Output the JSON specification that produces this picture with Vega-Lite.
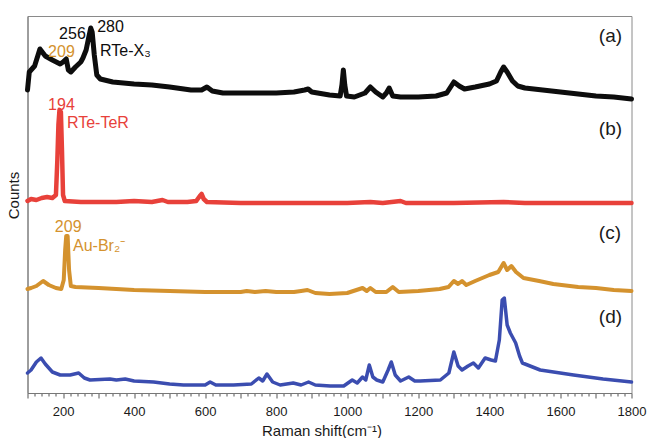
{
  "$schema": "https://vega.github.io/schema/vega-lite/v6.json",
  "width": 604,
  "height": 377,
  "autosize": "none",
  "padding": {"left": 27.5, "top": 16, "right": 17.5, "bottom": 45},
  "background": "white",
  "config": {
    "font": "Liberation Sans",
    "view": {"stroke": "#8a8a8a", "strokeWidth": 1}
  },
  "datasets": {
    "spectra": [
      {"s":"a","x":100,"y":303},{"s":"a","x":105,"y":321},{"s":"a","x":110,"y":323},{"s":"a","x":120,"y":327},{"s":"a","x":135,"y":344},{"s":"a","x":150,"y":337},{"s":"a","x":170,"y":333},{"s":"a","x":192,"y":329},{"s":"a","x":200,"y":331},{"s":"a","x":209,"y":334},{"s":"a","x":215,"y":323},{"s":"a","x":222,"y":321},{"s":"a","x":235,"y":326},{"s":"a","x":250,"y":331},{"s":"a","x":256,"y":335},{"s":"a","x":265,"y":343},{"s":"a","x":272,"y":355},{"s":"a","x":278,"y":365},{"s":"a","x":282,"y":361},{"s":"a","x":288,"y":338},{"s":"a","x":295,"y":318},{"s":"a","x":305,"y":314},{"s":"a","x":340,"y":311},{"s":"a","x":400,"y":309},{"s":"a","x":450,"y":308},{"s":"a","x":500,"y":306},{"s":"a","x":560,"y":303},{"s":"a","x":590,"y":303},{"s":"a","x":605,"y":306},{"s":"a","x":620,"y":302},{"s":"a","x":650,"y":300},{"s":"a","x":700,"y":300},{"s":"a","x":750,"y":300},{"s":"a","x":800,"y":300},{"s":"a","x":850,"y":301},{"s":"a","x":880,"y":303},{"s":"a","x":890,"y":304},{"s":"a","x":900,"y":301},{"s":"a","x":950,"y":298},{"s":"a","x":980,"y":297},{"s":"a","x":985,"y":308},{"s":"a","x":989,"y":323},{"s":"a","x":993,"y":308},{"s":"a","x":998,"y":297},{"s":"a","x":1020,"y":296},{"s":"a","x":1050,"y":300},{"s":"a","x":1065,"y":306},{"s":"a","x":1080,"y":301},{"s":"a","x":1100,"y":296},{"s":"a","x":1110,"y":300},{"s":"a","x":1118,"y":305},{"s":"a","x":1128,"y":297},{"s":"a","x":1150,"y":296},{"s":"a","x":1200,"y":296},{"s":"a","x":1250,"y":297},{"s":"a","x":1280,"y":300},{"s":"a","x":1300,"y":311},{"s":"a","x":1315,"y":307},{"s":"a","x":1330,"y":304},{"s":"a","x":1360,"y":306},{"s":"a","x":1400,"y":309},{"s":"a","x":1420,"y":312},{"s":"a","x":1432,"y":321},{"s":"a","x":1440,"y":326},{"s":"a","x":1450,"y":321},{"s":"a","x":1465,"y":312},{"s":"a","x":1480,"y":307},{"s":"a","x":1500,"y":305},{"s":"a","x":1550,"y":303},{"s":"a","x":1600,"y":301},{"s":"a","x":1650,"y":299},{"s":"a","x":1700,"y":297},{"s":"a","x":1750,"y":296},{"s":"a","x":1800,"y":294},
      {"s":"b","x":100,"y":192},{"s":"b","x":110,"y":194},{"s":"b","x":125,"y":193},{"s":"b","x":140,"y":195},{"s":"b","x":155,"y":196},{"s":"b","x":170,"y":195},{"s":"b","x":180,"y":198},{"s":"b","x":184,"y":233},{"s":"b","x":187,"y":268},{"s":"b","x":190,"y":283},{"s":"b","x":194,"y":281},{"s":"b","x":197,"y":243},{"s":"b","x":200,"y":198},{"s":"b","x":205,"y":192},{"s":"b","x":250,"y":191},{"s":"b","x":300,"y":191},{"s":"b","x":350,"y":191},{"s":"b","x":400,"y":192},{"s":"b","x":450,"y":191},{"s":"b","x":480,"y":193},{"s":"b","x":495,"y":191},{"s":"b","x":550,"y":191},{"s":"b","x":575,"y":192},{"s":"b","x":585,"y":197},{"s":"b","x":590,"y":199},{"s":"b","x":596,"y":194},{"s":"b","x":605,"y":191},{"s":"b","x":700,"y":190},{"s":"b","x":800,"y":190},{"s":"b","x":900,"y":190},{"s":"b","x":1000,"y":190},{"s":"b","x":1065,"y":191},{"s":"b","x":1100,"y":190},{"s":"b","x":1150,"y":192},{"s":"b","x":1165,"y":190},{"s":"b","x":1300,"y":190},{"s":"b","x":1440,"y":191},{"s":"b","x":1500,"y":190},{"s":"b","x":1600,"y":190},{"s":"b","x":1700,"y":190},{"s":"b","x":1800,"y":190},
      {"s":"c","x":100,"y":104},{"s":"c","x":110,"y":105},{"s":"c","x":125,"y":107},{"s":"c","x":144,"y":112},{"s":"c","x":160,"y":108},{"s":"c","x":180,"y":105},{"s":"c","x":195,"y":104},{"s":"c","x":202,"y":113},{"s":"c","x":206,"y":143},{"s":"c","x":209,"y":157},{"s":"c","x":213,"y":157},{"s":"c","x":217,"y":123},{"s":"c","x":222,"y":107},{"s":"c","x":235,"y":106},{"s":"c","x":300,"y":105},{"s":"c","x":400,"y":103},{"s":"c","x":500,"y":102},{"s":"c","x":600,"y":101},{"s":"c","x":700,"y":101},{"s":"c","x":717,"y":102},{"s":"c","x":740,"y":101},{"s":"c","x":770,"y":102},{"s":"c","x":800,"y":101},{"s":"c","x":850,"y":101},{"s":"c","x":870,"y":102},{"s":"c","x":888,"y":103},{"s":"c","x":910,"y":100},{"s":"c","x":950,"y":99},{"s":"c","x":1000,"y":100},{"s":"c","x":1043,"y":105},{"s":"c","x":1055,"y":102},{"s":"c","x":1065,"y":105},{"s":"c","x":1080,"y":101},{"s":"c","x":1110,"y":101},{"s":"c","x":1128,"y":106},{"s":"c","x":1145,"y":101},{"s":"c","x":1200,"y":102},{"s":"c","x":1260,"y":104},{"s":"c","x":1285,"y":106},{"s":"c","x":1300,"y":112},{"s":"c","x":1312,"y":109},{"s":"c","x":1323,"y":112},{"s":"c","x":1335,"y":108},{"s":"c","x":1360,"y":112},{"s":"c","x":1400,"y":118},{"s":"c","x":1425,"y":121},{"s":"c","x":1440,"y":130},{"s":"c","x":1450,"y":123},{"s":"c","x":1462,"y":127},{"s":"c","x":1475,"y":121},{"s":"c","x":1496,"y":115},{"s":"c","x":1540,"y":112},{"s":"c","x":1580,"y":109},{"s":"c","x":1650,"y":106},{"s":"c","x":1700,"y":105},{"s":"c","x":1750,"y":103},{"s":"c","x":1800,"y":102},
      {"s":"d","x":100,"y":20},{"s":"d","x":110,"y":23},{"s":"d","x":125,"y":31},{"s":"d","x":138,"y":35},{"s":"d","x":150,"y":29},{"s":"d","x":170,"y":21},{"s":"d","x":192,"y":18},{"s":"d","x":220,"y":18},{"s":"d","x":244,"y":20},{"s":"d","x":260,"y":15},{"s":"d","x":276,"y":13},{"s":"d","x":332,"y":14},{"s":"d","x":350,"y":13},{"s":"d","x":375,"y":14},{"s":"d","x":400,"y":12},{"s":"d","x":455,"y":11},{"s":"d","x":500,"y":9},{"s":"d","x":539,"y":8},{"s":"d","x":600,"y":8},{"s":"d","x":614,"y":11},{"s":"d","x":630,"y":8},{"s":"d","x":680,"y":8},{"s":"d","x":730,"y":9},{"s":"d","x":751,"y":15},{"s":"d","x":762,"y":12},{"s":"d","x":774,"y":19},{"s":"d","x":790,"y":11},{"s":"d","x":811,"y":8},{"s":"d","x":848,"y":10},{"s":"d","x":870,"y":8},{"s":"d","x":891,"y":11},{"s":"d","x":910,"y":8},{"s":"d","x":952,"y":7},{"s":"d","x":990,"y":7},{"s":"d","x":1014,"y":13},{"s":"d","x":1028,"y":10},{"s":"d","x":1043,"y":16},{"s":"d","x":1052,"y":13},{"s":"d","x":1062,"y":28},{"s":"d","x":1072,"y":16},{"s":"d","x":1083,"y":13},{"s":"d","x":1100,"y":11},{"s":"d","x":1115,"y":23},{"s":"d","x":1124,"y":31},{"s":"d","x":1135,"y":18},{"s":"d","x":1150,"y":12},{"s":"d","x":1173,"y":16},{"s":"d","x":1190,"y":12},{"s":"d","x":1205,"y":12},{"s":"d","x":1262,"y":13},{"s":"d","x":1286,"y":20},{"s":"d","x":1300,"y":41},{"s":"d","x":1312,"y":27},{"s":"d","x":1323,"y":23},{"s":"d","x":1340,"y":27},{"s":"d","x":1355,"y":30},{"s":"d","x":1369,"y":25},{"s":"d","x":1388,"y":35},{"s":"d","x":1405,"y":33},{"s":"d","x":1417,"y":32},{"s":"d","x":1428,"y":53},{"s":"d","x":1436,"y":93},{"s":"d","x":1442,"y":95},{"s":"d","x":1450,"y":68},{"s":"d","x":1459,"y":60},{"s":"d","x":1474,"y":50},{"s":"d","x":1485,"y":37},{"s":"d","x":1493,"y":30},{"s":"d","x":1543,"y":23},{"s":"d","x":1637,"y":18},{"s":"d","x":1720,"y":14},{"s":"d","x":1800,"y":11}
    ],
    "notes": [
      {"s":"a","label":"280","x":296,"y":361},
      {"s":"a","label":"256","x":189,"y":354},
      {"s":"c","label":"209","x":158,"y":336},
      {"s":"a","label":"RTe-X₃","x":304,"y":337},
      {"s":"b","label":"194","x":158,"y":283},
      {"s":"b","label":"RTe-TeR","x":211,"y":265},
      {"s":"c","label":"209","x":177,"y":161},
      {"s":"c","label":"Au-Br₂⁻","x":228,"y":142}
    ],
    "panels": [
      {"label":"(a)","x":1708,"y":357},
      {"label":"(b)","x":1708,"y":264},
      {"label":"(c)","x":1708,"y":160},
      {"label":"(d)","x":1708,"y":76}
    ]
  },
  "layer": [
    {
      "data": {"name": "spectra"},
      "mark": {"type": "line", "strokeJoin": "round", "strokeCap": "round"},
      "encoding": {
        "x": {
          "field": "x", "type": "quantitative",
          "scale": {"domain": [100, 1800], "nice": false, "zero": false},
          "axis": {
            "title": "Raman shift(cm⁻¹)",
            "titleFont": "Liberation Sans", "titleFontSize": 15, "titleFontWeight": "normal", "titleColor": "#1a1a1a",
            "titlePadding": 5, "titleX": 294,
            "tickCount": 100,
            "values": [100,120,140,160,180,200,220,240,260,280,300,320,340,360,380,400,420,440,460,480,500,520,540,560,580,600,620,640,660,680,700,720,740,760,780,800,820,840,860,880,900,920,940,960,980,1000,1020,1040,1060,1080,1100,1120,1140,1160,1180,1200,1220,1240,1260,1280,1300,1320,1340,1360,1380,1400,1420,1440,1460,1480,1500,1520,1540,1560,1580,1600,1620,1640,1660,1680,1700,1720,1740,1760,1780,1800],
            "format": "d",
            "labelExpr": "datum.value % 200 === 0 ? datum.label : ''",
            "labelOverlap": false,
            "labelFlush": false,
            "labelBound": false,
            "labelFontSize": 13, "labelColor": "#1a1a1a", "labelPadding": 7,
            "tickSize": {"condition": {"test": "datum.value % 100 === 0", "value": 5}, "value": 3},
            "tickColor": "#555", "domainColor": "#777", "grid": false
          }
        },
        "y": {
          "field": "y", "type": "quantitative",
          "scale": {"domain": [0, 377], "nice": false, "zero": false},
          "axis": {
            "title": "Counts", "titleFontSize": 15, "titleFontWeight": "normal", "titleColor": "#1a1a1a",
            "labels": false, "ticks": false, "grid": false, "domainColor": "#777",
            "titleX": -14, "titleY": 179, "titleAngle": -90, "titleBaseline": "middle", "titleAlign": "center"
          }
        },
        "color": {
          "field": "s", "type": "nominal",
          "scale": {"domain": ["a","b","c","d"], "range": ["#0d0d0d","#e8413a","#d4922e","#3b4db0"]},
          "legend": null
        },
        "strokeWidth": {
          "field": "s", "type": "nominal",
          "scale": {"domain": ["a","b","c","d"], "range": [5, 3.5, 4, 4.5]},
          "legend": null
        }
      }
    },
    {
      "data": {"name": "notes"},
      "mark": {"type": "text", "align": "left", "baseline": "alphabetic", "fontSize": 16},
      "encoding": {
        "x": {"field": "x", "type": "quantitative"},
        "y": {"field": "y", "type": "quantitative"},
        "text": {"field": "label"},
        "color": {"field": "s", "type": "nominal", "legend": null}
      }
    },
    {
      "data": {"name": "panels"},
      "mark": {"type": "text", "align": "left", "baseline": "middle", "fontSize": 19, "color": "#1a1a1a"},
      "encoding": {
        "x": {"field": "x", "type": "quantitative"},
        "y": {"field": "y", "type": "quantitative"},
        "text": {"field": "label"}
      }
    }
  ]
}
